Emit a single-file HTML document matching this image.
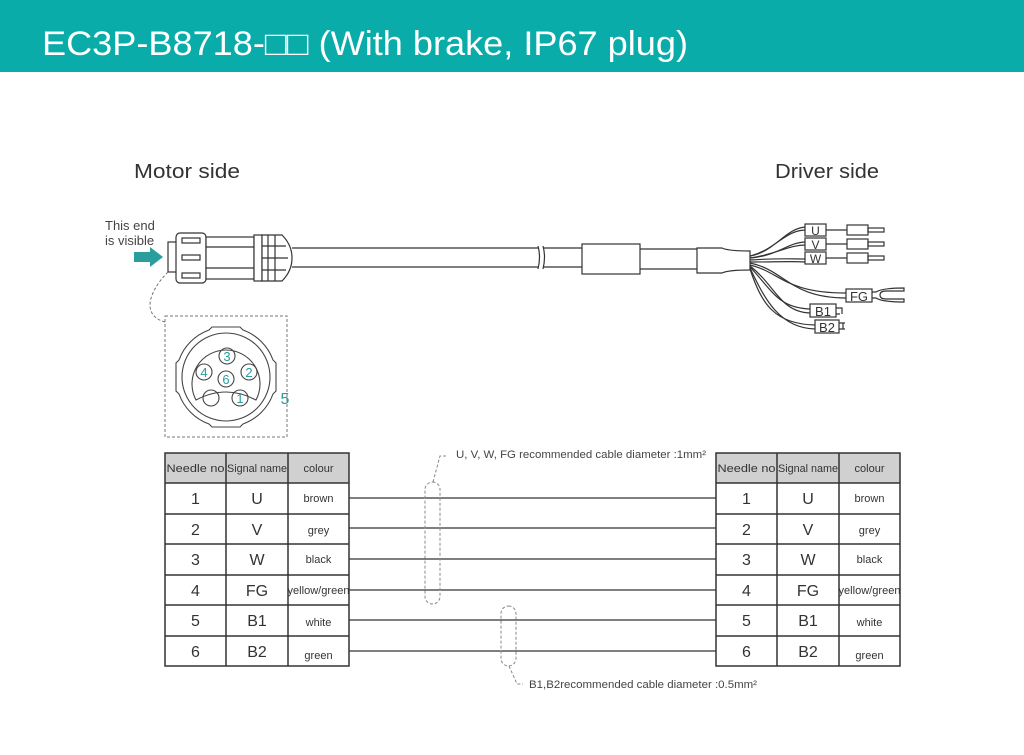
<!DOCTYPE html>
<html><head><meta charset="utf-8"><style>
html,body{margin:0;padding:0;background:#fff;}
svg{display:block;font-family:"Liberation Sans",sans-serif;}
</style></head><body>
<svg width="1024" height="755" viewBox="0 0 1024 755" xmlns="http://www.w3.org/2000/svg">
<rect x="0" y="0" width="1024" height="72" fill="#0aacaa"/>
<text x="42" y="55" font-size="34" fill="#fff" textLength="646" lengthAdjust="spacingAndGlyphs">EC3P-B8718-□□  (With brake, IP67 plug)</text>

<text x="134" y="178" font-size="20" fill="#333" textLength="106" lengthAdjust="spacingAndGlyphs">Motor side</text>
<text x="775" y="178" font-size="20" fill="#333" textLength="104" lengthAdjust="spacingAndGlyphs">Driver side</text>
<text x="105" y="230" font-size="13" fill="#444">This end</text>
<text x="105" y="245" font-size="13" fill="#444">is visible</text>
<path d="M134 252 h16 v-5 l13 10 l-13 10 v-5 h-16z" fill="#2a9d9d"/>

<g fill="none" stroke="#333" stroke-width="1.2">
<!-- connector -->
<rect x="168" y="242" width="10" height="30" fill="#fff"/>
<rect x="176" y="233" width="30" height="50" rx="4" fill="#fff"/>
<rect x="182" y="238" width="18" height="5"/><rect x="182" y="255" width="18" height="5"/><rect x="182" y="273" width="18" height="5"/>
<rect x="206" y="237" width="48" height="42" fill="#fff"/>
<line x1="206" y1="247" x2="254" y2="247"/><line x1="206" y1="268" x2="254" y2="268"/>
<rect x="254" y="235" width="8" height="46" fill="#fff"/>
<path d="M262 235 h20 q10 10 10 23 q0 13 -10 23 h-20z" fill="#fff"/>
<line x1="268" y1="235" x2="268" y2="281"/><line x1="275" y1="235" x2="275" y2="281"/>
<line x1="262" y1="246" x2="286" y2="246"/><line x1="262" y1="258" x2="288" y2="258"/><line x1="262" y1="270" x2="286" y2="270"/>
<!-- cable -->
<line x1="292" y1="248" x2="538" y2="248"/><line x1="292" y1="267" x2="538" y2="267"/>
<path d="M538 246 q3 11 0 23 M543 246 q3 11 0 23"/>
<line x1="543" y1="248" x2="582" y2="248"/><line x1="543" y1="267" x2="582" y2="267"/>
<rect x="582" y="244" width="58" height="30"/>
<line x1="640" y1="249" x2="697" y2="249"/><line x1="640" y1="269" x2="697" y2="269"/>
<path d="M697 248 h25 q6 3 28 3 v19 q-22 0 -28 3 h-25z"/>
<!-- wires -->
<path d="M750 256 C775 250 785 230 806 230"/><path d="M750 256 C775 252 785 228 806 227"/>
<path d="M750 258 C778 254 788 245 806 245"/><path d="M750 258 C778 256 788 242 806 242"/>
<path d="M750 260 C780 258 790 259 806 259"/><path d="M750 262 C780 262 790 261 806 262"/>
<path d="M750 263 C785 270 790 298 846 298"/><path d="M750 265 C780 272 785 293 846 293"/>
<path d="M750 266 C775 285 780 312 810 313"/><path d="M750 267 C772 290 778 308 810 309"/>
<path d="M750 268 C765 300 780 328 815 329"/><path d="M750 269 C762 305 775 324 815 325"/>
<rect x="805" y="224" width="21" height="12" fill="#fff"/>
<rect x="805" y="238" width="21" height="12" fill="#fff"/>
<rect x="805" y="252" width="21" height="12" fill="#fff"/>
<g>
<line x1="826" y1="230" x2="847" y2="230"/><rect x="847" y="225" width="21" height="10"/><rect x="868" y="228" width="16" height="4"/>
<line x1="826" y1="244" x2="847" y2="244"/><rect x="847" y="239" width="21" height="10"/><rect x="868" y="242" width="16" height="4"/>
<line x1="826" y1="258" x2="847" y2="258"/><rect x="847" y="253" width="21" height="10"/><rect x="868" y="256" width="16" height="4"/>
</g>
<rect x="846" y="289" width="26" height="13" fill="#fff"/>
<path d="M872 292 h4 q6 -4 28 -4 v3 h-18 q-6 0 -6 4 q0 4 6 4 h18 v3 q-22 0 -28 -4 h-4"/>
<rect x="810" y="304" width="26" height="13" fill="#fff"/>
<path d="M836 308 h6 v6 M836 314 h4"/>
<rect x="815" y="320" width="24" height="13" fill="#fff"/>
<path d="M839 323 h6 M839 329 h6 M843 323 v6"/>
</g>
<g font-size="12" fill="#333" text-anchor="middle">
<text x="815.5" y="235">U</text><text x="815.5" y="249">V</text><text x="815.5" y="263">W</text>
<text x="859" y="301" font-size="13">FG</text><text x="823" y="316" font-size="13">B1</text><text x="827" y="332" font-size="13">B2</text>
</g>

<!-- dashed detail -->
<path d="M168 272 C150 290 140 315 165 322" fill="none" stroke="#777" stroke-dasharray="3 2"/>
<rect x="165" y="316" width="122" height="121" fill="none" stroke="#777" stroke-dasharray="3 2"/>
<g fill="none" stroke="#444" stroke-width="1.1">
<path d="M212 327 h28 l3 3 a50 50 0 0 1 30 30 l3 3 v28 l-3 3 a50 50 0 0 1 -30 30 l-3 3 h-28 l-3 -3 a50 50 0 0 1 -30 -30 l-3 -3 v-28 l3 -3 a50 50 0 0 1 30 -30z"/>
<circle cx="226" cy="377" r="44"/>
<path d="M196 400 A34 34 0 1 1 256 400 Q226 384 196 400z"/>
<circle cx="227" cy="356" r="8"/><circle cx="204" cy="372" r="8"/><circle cx="249" cy="372" r="8"/>
<circle cx="226" cy="379" r="8"/><circle cx="211" cy="398" r="8"/><circle cx="240" cy="398" r="8"/>
</g>
<g fill="#2a9d9d" font-size="13" text-anchor="middle">
<text x="227" y="361">3</text><text x="204" y="377">4</text><text x="249" y="377">2</text><text x="226" y="384">6</text><text x="240" y="403">1</text>
<text x="285" y="404" font-size="16">5</text>
</g>

<!-- wires between tables -->
<g stroke="#333" stroke-width="1.3">
<line x1="349" y1="498" x2="716" y2="498"/><line x1="349" y1="528" x2="716" y2="528"/>
<line x1="349" y1="559" x2="716" y2="559"/><line x1="349" y1="590" x2="716" y2="590"/>
<line x1="349" y1="620" x2="716" y2="620"/><line x1="349" y1="651" x2="716" y2="651"/>
</g>
<g fill="none" stroke="#888" stroke-dasharray="3 2">
<rect x="425" y="482" width="15" height="122" rx="7.5"/>
<rect x="501" y="606" width="15" height="60" rx="7.5"/>
<path d="M433 482 L440 456 h6"/><path d="M509 666 L517 684 h6"/>
</g>
<text x="456" y="458" font-size="11" fill="#444" textLength="250" lengthAdjust="spacingAndGlyphs">U, V, W, FG recommended cable diameter :1mm²</text>
<text x="529" y="688" font-size="11" fill="#444" textLength="228" lengthAdjust="spacingAndGlyphs">B1,B2recommended cable diameter :0.5mm²</text>

<!-- tables -->
<g id="t">
<rect x="165" y="453" width="184" height="30" fill="#d0d0d0"/>
<g stroke="#333" stroke-width="1.5" fill="none">
<rect x="165" y="453" width="184" height="213"/>
<line x1="226" y1="453" x2="226" y2="666"/><line x1="288" y1="453" x2="288" y2="666"/>
<line x1="165" y1="483" x2="349" y2="483"/><line x1="165" y1="514" x2="349" y2="514"/>
<line x1="165" y1="544" x2="349" y2="544"/><line x1="165" y1="575" x2="349" y2="575"/>
<line x1="165" y1="605" x2="349" y2="605"/><line x1="165" y1="636" x2="349" y2="636"/>
</g>
<g font-size="11" fill="#333" text-anchor="middle">
<text x="195.5" y="472" textLength="58" lengthAdjust="spacingAndGlyphs">Needle no</text>
<text x="257" y="472" textLength="60" lengthAdjust="spacingAndGlyphs">Signal name</text>
<text x="318.5" y="472">colour</text>
</g>
<g font-size="16" fill="#333" text-anchor="middle">
<text x="195.5" y="504">1</text><text x="257" y="504">U</text>
<text x="195.5" y="535">2</text><text x="257" y="535">V</text>
<text x="195.5" y="565">3</text><text x="257" y="565">W</text>
<text x="195.5" y="596">4</text><text x="257" y="596">FG</text>
<text x="195.5" y="626">5</text><text x="257" y="626">B1</text>
<text x="195.5" y="657">6</text><text x="257" y="657">B2</text>
</g>
<g font-size="11" fill="#333" text-anchor="middle">
<text x="318.5" y="502">brown</text><text x="318.5" y="534">grey</text><text x="318.5" y="563">black</text>
<text x="318.5" y="594" textLength="62" lengthAdjust="spacingAndGlyphs">yellow/green</text>
<text x="318.5" y="626">white</text><text x="318.5" y="659">green</text>
</g>
</g>
<use href="#t" transform="translate(551,0)"/>
</svg>
</body></html>
